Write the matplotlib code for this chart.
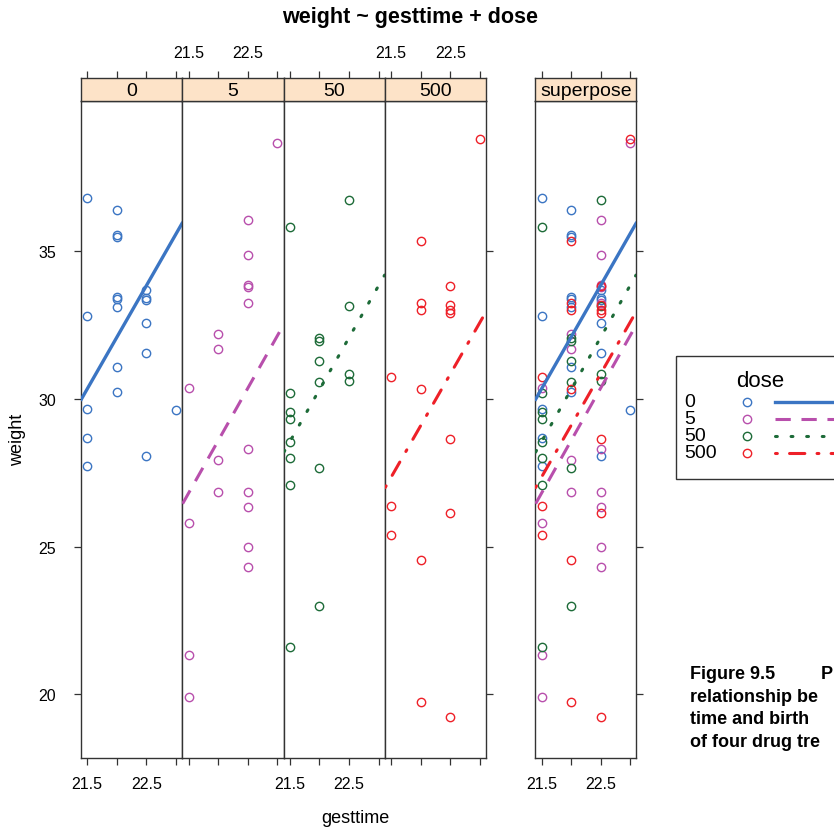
import matplotlib
matplotlib.use('Agg')
import matplotlib.pyplot as plt
from matplotlib.patches import Rectangle
from matplotlib.lines import Line2D

plt.rcParams['font.family'] = ['Liberation Sans', 'DejaVu Sans']

# Data (gestation time vs. birth weight per dose group)
doses = ['0', '5', '50', '500']

gest_0 = [21.5, 22.0, 22.0, 22.0, 22.0, 22.0, 22.0, 21.5, 22.5, 22.5,
          22.5, 22.5, 22.5, 22.0, 22.0, 21.5, 23.0, 21.5, 22.5, 21.5]
weight_0 = [36.81, 36.41, 35.55, 35.50, 33.47, 33.40, 33.11, 32.82, 33.70, 33.44,
            33.36, 32.57, 31.55, 31.09, 30.23, 29.65, 29.63, 28.67, 28.07, 27.74]

gest_5 = [23.0, 22.5, 22.5, 22.5, 22.5, 22.5, 22.0, 22.0, 21.5, 22.5,
          22.0, 22.0, 22.5, 22.5, 21.5, 22.5, 22.5, 21.5, 21.5]
weight_5 = [38.67, 36.06, 34.87, 33.86, 33.80, 33.24, 32.20, 31.70, 30.36, 28.32,
            27.94, 26.85, 26.85, 26.35, 25.80, 24.97, 24.30, 21.31, 19.91]

gest_50 = [22.5, 21.5, 22.5, 22.0, 22.0, 22.0, 22.0, 22.5, 22.5, 21.5,
           21.5, 21.5, 21.5, 21.5, 22.0, 21.5, 22.0, 21.5]
weight_50 = [36.74, 35.84, 33.16, 32.06, 31.96, 31.30, 30.58, 30.86, 30.62, 30.19,
             29.57, 29.33, 28.53, 28.00, 27.65, 27.08, 22.99, 21.60]

gest_500 = [23.0, 22.0, 22.5, 22.0, 22.0, 22.5, 22.5, 22.5, 21.5, 22.0,
            22.5, 21.5, 22.5, 21.5, 22.0, 22.0, 22.5]
weight_500 = [38.80, 35.34, 33.82, 33.25, 33.01, 33.19, 33.02, 32.90, 30.73, 30.34,
              28.63, 26.39, 26.14, 25.40, 24.56, 19.72, 19.23]

# fitted (parallel) lines: weight at the left and right panel edges
fit_x = [21.4, 23.1]
fit_0 = [29.99, 35.95]
fit_5 = [26.45, 32.50]
fit_50 = [28.20, 34.20]
fit_500 = [27.00, 32.95]

gest = [gest_0, gest_5, gest_50, gest_500]
weight = [weight_0, weight_5, weight_50, weight_500]
fits = [fit_0, fit_5, fit_50, fit_500]

# caption text as far as it is visible at the right edge
caption_head = ['Figure 9.5', 'P']
caption = ['relationship be', 'time and birth', 'of four drug tre']

colors = ['#3b75c3', '#b84fac', '#1d6b38', '#ee2028']
styles = [dict(ls='-', lw=2.4),
          dict(ls=(0, (5, 3.5)), lw=2.2),
          dict(ls=(0, (0.6, 4.5)), lw=2.2, dash_capstyle='round'),
          dict(ls=(0, (0.6, 4, 5, 4)), lw=2.2, dash_capstyle='round')]

W, H = 834, 829
fig = plt.figure(figsize=(W / 100, H / 100), dpi=100)

xlim = (21.395, 23.105)
ylim = (17.85, 40.1)
xticks = [21.5, 22.0, 22.5, 23.0]
yticks = [20, 25, 30, 35]
tick_font = 11.5
edge = '#333333'


def fax(x0, y0, x1, y1):
    # pixel box -> figure axes
    return fig.add_axes([x0 / W, 1 - y1 / H, (x1 - x0) / W, (y1 - y0) / H])


def style_panel(ax):
    ax.set_xlim(xlim)
    ax.set_ylim(ylim)
    for s in ax.spines.values():
        s.set_color(edge)
        s.set_linewidth(1.0)
    ax.tick_params(direction='out', length=5, width=0.9, color=edge,
                   labelsize=tick_font)
    ax.set_xticks(xticks)
    ax.set_yticks(yticks)


def add_strip(x0, x1, label, top_labels):
    sax = fax(x0, 79, x1, 102)
    sax.set_facecolor('#fde3c8')
    sax.set_xlim(xlim)
    sax.set_ylim(0, 1)
    sax.set_yticks([])
    sax.set_xticks(xticks)
    sax.xaxis.set_ticks_position('top')
    sax.tick_params(direction='out', length=5, width=0.9, color=edge,
                    labelsize=tick_font, pad=8, labeltop=top_labels)
    if top_labels:
        sax.set_xticklabels(['21.5', '', '22.5', ''])
    for s in sax.spines.values():
        s.set_color(edge)
        s.set_linewidth(1.0)
    sax.text(0.5, 0.47, label, transform=sax.transAxes, ha='center',
             va='center', fontsize=14)


def draw_group(ax, i):
    ax.plot(gest[i], weight[i], 'o', mfc='none', mec=colors[i], ms=6,
            mew=1.0, zorder=3)
    ax.plot(fit_x, fits[i], color=colors[i], zorder=4, **styles[i])


left = 81.0
pw = 101.3
top, bottom = 102, 758.5

for i, d in enumerate(doses):
    x0 = left + i * pw
    ax = fax(x0, top, x0 + pw, bottom)
    style_panel(ax)
    draw_group(ax, i)
    # bottom labels on panels 1 and 3, top labels on 2 and 4
    ax.tick_params(axis='x', pad=8, labelbottom=(i % 2 == 0))
    ax.set_xticklabels(['21.5', '', '22.5', ''])
    if i == 0:
        ax.tick_params(axis='y', pad=13)
        ax.set_yticklabels([str(t) for t in yticks])
    else:
        ax.tick_params(axis='y', left=False, labelleft=False)
    if i == 3:
        ax.tick_params(axis='y', right=True, labelright=False)
    add_strip(x0, x0 + pw, d, top_labels=(i % 2 == 1))

# superposed panel
sx0, sx1 = 535.3, 636.3
sax = fax(sx0, top, sx1, bottom)
style_panel(sax)
for i in range(len(doses)):
    draw_group(sax, i)
sax.tick_params(axis='x', pad=8)
sax.set_xticklabels(['21.5', '', '22.5', ''])
sax.tick_params(axis='y', left=False, labelleft=False, right=True,
                labelright=False)
add_strip(sx0, sx1, 'superpose', top_labels=False)

# titles and axis labels
fig.text(410 / W, 1 - 18 / H, 'weight ~ gesttime + dose', ha='center',
         va='center', fontsize=15.5, fontweight='bold')
fig.text(355 / W, 1 - 819 / H, 'gesttime', ha='center', va='center',
         fontsize=13)
fig.text(18 / W, 1 - 440 / H, 'weight', ha='center', va='center',
         fontsize=13, rotation=90)

# legend box (extends past the right edge, as in the reference)
lax = fax(676, 357, 900, 480)
lax.set_xlim(0, 224)
lax.set_ylim(123, 0)
lax.axis('off')
lax.add_patch(Rectangle((0, 0), 224, 123, fill=False, ec=edge, lw=1.0,
                        clip_on=False))
lax.text(84, 25, 'dose', ha='center', va='center', fontsize=16)
row_y = [46, 63, 80, 97]
for i, d in enumerate(doses):
    lax.text(8, row_y[i], d, ha='left', va='center', fontsize=14)
    lax.plot([71], [row_y[i]], 'o', mfc='none', mec=colors[i], ms=6, mew=1.0)
    lax.add_line(Line2D([99, 224], [row_y[i], row_y[i]], color=colors[i],
                        **styles[i]))

# caption on the right
cap_font = 13
fig.text(690 / W, 1 - 675 / H, caption_head[0], ha='left', va='center',
         fontsize=cap_font, fontweight='bold')
fig.text(821 / W, 1 - 675 / H, caption_head[1], ha='left', va='center',
         fontsize=cap_font, fontweight='bold')
for k, line in enumerate(caption):
    fig.text(690 / W, 1 - (697.5 + 22.3 * k) / H, line, ha='left',
             va='center', fontsize=cap_font, fontweight='bold')

fig.savefig('out.png', dpi=100)
